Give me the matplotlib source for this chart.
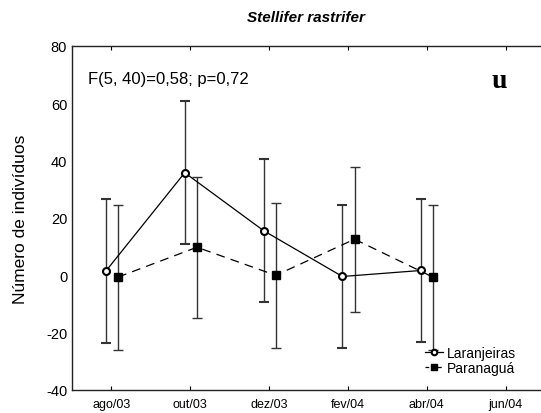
import matplotlib
matplotlib.use('Agg')
from matplotlib import pyplot as plt
from matplotlib.lines import Line2D
import numpy as np

plt.rcParams['font.family'] = ['Liberation Sans', 'DejaVu Sans']
plt.rcParams['axes.unicode_minus'] = False

meses = ['ago/03', 'out/03', 'dez/03', 'fev/04', 'abr/04', 'jun/04']
laranjeiras = [1.5, 35.8, 15.6, -0.4, 1.7]
laranjeiras_err = [25.2, 24.9, 25.0, 25.0, 25.1]
paranagua = [-0.6, 9.8, 0.0, 12.6, -0.7]
paranagua_err = [25.3, 24.6, 25.4, 25.3, 25.4]

fig = plt.figure(figsize=(5.41, 4.14), dpi=100)
ax = fig.add_axes([72 / 541, 23 / 414, 1 - 72 / 541, 344 / 414])

x = np.arange(len(laranjeiras))
ax.errorbar(x - 0.07, laranjeiras, yerr=laranjeiras_err, fmt='-o', color='black',
            mfc='white', mec='black', mew=1.5, ms=5, lw=0.9,
            ecolor='#333333', elinewidth=1.0, capsize=3.5, capthick=1.0)
ax.errorbar(x + 0.085, paranagua, yerr=paranagua_err, fmt='--s', color='black',
            ms=6, lw=0.9, dashes=(7, 5),
            ecolor='#333333', elinewidth=1.0, capsize=3.5, capthick=1.0)

ax.set_xlim(-0.5, 5.45)
ax.set_ylim(-40, 80)
ax.set_xticks(np.arange(len(meses)))
ax.set_xticklabels(meses)
ax.set_yticks([-40, -20, 0, 20, 40, 60, 80])
ax.tick_params(axis='x', direction='in', length=3, top=True, labelsize=9, pad=6)
ax.tick_params(axis='y', direction='in', length=0, labelsize=10.5)
ax.spines['right'].set_visible(False)
for s in ['left', 'bottom', 'top']:
    ax.spines[s].set_linewidth(1.0)
    ax.spines[s].set_color('#222222')

ax.set_ylabel('Número de indivíduos', fontsize=12.5, labelpad=13)
fig.text(306 / 541, 1 - 18 / 414, 'Stellifer rastrifer', ha='center', va='center',
         fontsize=11, fontweight='bold', fontstyle='italic')
ax.text(0.035, 0.905, 'F(5, 40)=0,58; p=0,72', transform=ax.transAxes,
        fontsize=12, va='center', ha='left')
ax.text(0.91, 0.9, 'u', transform=ax.transAxes, fontsize=20, fontweight='bold',
        family='Liberation Serif', va='center', ha='center')

handles = [
    Line2D([], [], color='black', lw=0.9, marker='o', ms=4, mfc='white', mew=1.5),
    Line2D([], [], color='black', lw=0.9, ls='--', dashes=(3, 2), marker='s', ms=4.5),
]
ax.legend(handles, ['Laranjeiras', 'Paranaguá'], loc='lower right',
          bbox_to_anchor=(0.965, 0.02), frameon=False, fontsize=10,
          handlelength=1.3, handletextpad=0.3, labelspacing=0.05, borderaxespad=0.2)

fig.savefig('out.png', dpi=100)
